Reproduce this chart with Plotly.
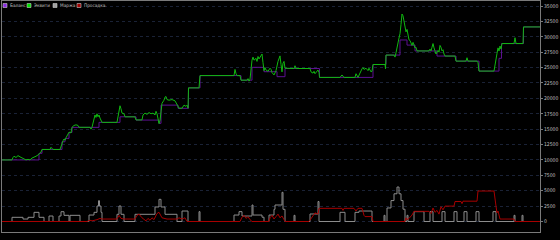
import plotly.graph_objects as go

# ---------------- data (time index, value) ----------------
equity_x = [0, 10, 11, 12, 14, 16, 18, 20, 22, 24, 26, 28, 30, 32, 34, 36, 37, 39, 40,
            48, 49, 50, 51, 58, 59, 61, 62, 63, 64, 65, 66, 67, 69, 70, 72, 74, 76, 77,
            88, 89, 90, 92, 93, 94, 95, 96, 97, 98, 100, 115, 116, 117, 118, 119, 120,
            122, 123, 133, 134, 140, 141, 143, 145, 147, 149, 151, 153, 154, 155, 157,
            158, 159, 160, 162, 163, 164, 165, 167, 170, 173, 175, 177, 180, 182, 184,
            185, 186, 186.5, 197, 198, 232, 233, 234, 235, 238, 239, 245, 246, 247, 248,
            250, 251, 252, 254, 255, 256, 257, 259, 260, 261, 262, 263, 264, 266, 268,
            269, 270, 272, 274, 276, 277, 278, 279, 280, 281, 282, 283, 292, 293, 294,
            308, 309, 311, 312, 313, 315, 316, 317, 317.5, 338, 340, 342, 353, 354, 356,
            360, 361, 362, 364, 366, 367, 369, 370, 371, 383, 383.5, 384, 392, 393, 394,
            395, 396, 397, 398, 399, 400, 401, 402, 403, 404, 405, 406, 407, 408, 409,
            410, 411, 412, 413, 414, 415, 416, 427, 428, 429, 430, 431, 432, 433, 434,
            436, 437, 438, 439, 440, 441, 442, 443, 453, 454, 464, 465, 466, 475, 476,
            477, 492, 493, 494, 495, 496, 497, 498, 499, 500, 512, 513, 514, 521, 521.5,
            538]
equity_y = [10000, 10000, 10400, 10600, 10400, 10700, 10500, 10300, 10200, 10000, 10100,
            10000, 10300, 10400, 10600, 10800, 11000, 11300, 11700,
            11700, 12050, 11800, 11700, 11700, 12300, 13100, 13400, 13200, 13600, 14000,
            14300, 14500, 14400, 15300, 15600, 15700, 15600, 15300,
            15300, 15000, 15300, 16700, 17300, 16900, 17500, 17000, 17300, 16800, 16100,
            16100, 17000, 17800, 18800, 18300, 17600,
            17500, 17000, 17000, 16500, 16500, 17300, 17600, 17400, 17700, 17500, 17600,
            17300, 17900, 17500, 15900,
            16400, 17800, 19200, 19700, 20200, 20300, 19800, 19700, 19800, 19600, 18900,
            18400, 18400, 18900, 18700,
            18900, 18400, 21700, 21700, 23700, 23700, 24700, 24000, 23700, 23700, 22950,
            22950, 23200, 22800, 23100,
            26200, 26700, 26200, 26500, 26000, 26800, 26400, 27000, 27200, 25800, 24500,
            25000, 24600, 24400, 24900,
            24700, 24200, 23800, 24500, 26000, 26600, 26900, 25500, 24300, 25700, 26000,
            24900, 24850, 25300, 24850,
            24850, 24300, 24100, 24400, 24000, 24300, 24600, 24200, 23400, 23400, 23800,
            23400, 23400, 24000, 23400,
            24800, 25000, 24700, 24900, 24500, 24900, 24300, 24400, 25500, 25500, 24800,
            27030, 27030, 26700, 27400,
            28000, 29000, 29800, 30500, 32000, 33700, 33400, 32500, 31800, 30800, 31200,
            30000, 29500, 29400, 29000,
            28600, 29100, 28700, 28200, 28300, 27700, 27700, 27700, 28000, 27700, 28300,
            28900, 28200, 27600, 27200,
            27800, 27500, 28600, 28300, 27700, 27900, 27200, 26870, 26870, 26050, 26050,
            26600, 26050, 26050, 25800,
            24430, 24430, 25200, 26400, 27300, 28200, 27700, 28500, 28000, 28900, 28900,
            29850, 28900, 28900, 31600,
            31600]

balance_x = [0, 37, 40, 60, 63, 67, 70, 97, 118, 134, 157, 159, 176, 186.5, 198, 239,
             250, 262, 275, 283, 317.5, 371, 384, 398, 405, 413, 435, 454, 477, 497,
             499.5, 521.5, 538]
balance_y = [10000, 11070, 11700, 12950, 13500, 14470, 15290, 16100, 17010, 16470,
             15940, 18900, 18380, 21700, 23700, 22950, 25040, 24330, 23520, 24850,
             23400, 25500, 27030, 29480, 28650, 27700, 26870, 26050, 24430, 26500,
             28900, 31600, 31600]

margin_x = [0, 10, 21, 26, 32, 37, 42, 47, 51, 57, 59, 62, 67, 68, 78, 87, 92, 95, 96.5,
            97.5, 99, 100, 115, 117, 119, 122, 133, 153, 157, 159, 163, 175, 180, 186,
            197, 198, 232, 237, 240, 250, 251, 260, 262, 267, 272, 273, 280, 281, 283,
            292, 293, 308, 316, 317, 338, 343, 353, 357, 370, 382, 383, 385, 389, 392,
            395, 397, 399, 401, 403, 405, 406, 412, 422, 428, 431, 440, 443, 452, 455,
            462, 465, 474, 477, 491, 494, 512, 513, 520, 521, 538]
margin_y = [0, 680, 400, 680, 1490, 680, 0, 890, 0, 890, 1590, 1000, 0, 1000, 0, 1050,
            1490, 2520, 3380, 2520, 1490, 0, 1170, 2520, 1170, 0, 1170, 2360, 3600, 2360,
            1170, 0, 1700, 0, 1600, 0, 1050, 1600, 890, 2680, 1050, 700, 0, 1050, 1980,
            2680, 4740, 1980, 0, 1000, 0, 1220, 3250, 0, 1490, 0, 1490, 1700, 0, 1000, 0,
            2200, 3400, 4500, 5600, 4500, 3400, 2000, 0, 1000, 0, 1600, 0, 1600, 0, 1600,
            0, 1600, 0, 1600, 0, 1600, 0, 1600, 0, 1000, 0, 1000, 0, 0]

drawdown_x = [0, 85, 88, 90, 95, 98, 100, 115, 117, 119, 122, 133, 135, 137, 140, 142,
              144, 146, 148, 150, 152, 155, 157, 160, 165, 175, 177, 180, 183, 185, 238,
              240, 242, 244, 246, 248, 250, 267, 268, 270, 272, 274, 276, 278, 280, 282,
              283, 307, 310, 313, 316, 317, 340, 341, 342, 352, 354, 356, 360, 361, 362,
              363, 370, 371, 403, 404, 405, 407, 410, 412, 427, 429, 431, 433, 435, 437,
              439, 441, 443, 452, 453, 459, 460, 461, 475, 476, 492, 494, 495, 496, 497,
              498, 512, 513, 538]
drawdown_y = [0, 0, 200, 100, 300, 500, 400, 400, 1000, 500, 400, 400, 1000, 1200, 600,
              300, 100, 500, 200, 600, 300, 1300, 1500, 600, 400, 400, 600, 400, 600, 0,
              0, 700, 1000, 500, 800, 300, 0, 0, 600, 1000, 400, 800, 1200, 600, 900, 300,
              0, 0, 800, 1400, 1200, 2140, 2140, 1800, 2140, 2140, 1700, 2140, 2140, 1400,
              1000, 800, 800, 0, 0, 600, 300, 500, 1050, 1650, 1650, 1300, 2200, 1500,
              1800, 1200, 2400, 1900, 2500, 2500, 3250, 3250, 2900, 3300, 3300, 4950, 4950,
              2500, 1400, 1700, 900, 400, 400, 0, 0]

tick_vals = [0, 2500, 5000, 7500, 10000, 12500, 15000, 17500, 20000, 22500, 25000,
             27500, 30000, 32500, 35000]
legend_names = ["Баланс", "Эквити", "Маржа", "Просадка"]
legend_colors = ["#8a2be2", "#00e000", "#a0a0a0", "#a00000"]

FONT = "Liberation Sans Narrow, DejaVu Sans Condensed, Liberation Sans"

# ---------------- figure ----------------
fig = go.Figure()
fig.add_trace(go.Scatter(x=margin_x, y=margin_y, mode="lines", line_shape="hv",
                         line=dict(color="#8c8c8c", width=1), showlegend=False,
                         name=legend_names[2]))
fig.add_trace(go.Scatter(x=drawdown_x, y=drawdown_y, mode="lines",
                         line=dict(color="#a80000", width=1), showlegend=False,
                         name=legend_names[3]))
fig.add_trace(go.Scatter(x=balance_x, y=balance_y, mode="lines", line_shape="hv",
                         line=dict(color="#5c1090", width=1), showlegend=False,
                         name=legend_names[0]))
fig.add_trace(go.Scatter(x=equity_x, y=equity_y, mode="lines",
                         line=dict(color="#10b810", width=1), showlegend=False,
                         name=legend_names[1]))

# plot area pixel geometry (decoration only)
L, R, T, B = 2, 540, 1, 232
W, H = 560, 240


def px(p):
    return (p - L) / (R - L)


def py(p):
    return (B - p) / (B - T)


shapes = [dict(type="rect", xref="paper", yref="paper", x0=px(2.5), x1=px(103),
               y0=py(10), y1=py(1.5), fillcolor="#000000", line=dict(width=0),
               layer="above")]
annotations = []
sq_x = [3, 27, 53, 77]
for name, col, sx in zip(legend_names, legend_colors, sq_x):
    shapes.append(dict(type="rect", xref="paper", yref="paper", x0=px(sx), x1=px(sx + 4),
                       y0=py(7.5), y1=py(3.5), fillcolor=col,
                       line=dict(color="#c8c8c8", width=0.6), layer="above"))
    annotations.append(dict(text=name, xref="paper", yref="paper", x=px(sx + 5),
                            y=py(5.5), xanchor="left", yanchor="middle", showarrow=False,
                            font=dict(size=4.7, color="#c0c0c0", family=FONT)))

fig.update_layout(
    width=W, height=H,
    margin=dict(l=L, r=W - R, t=T, b=H - B),
    paper_bgcolor="#000000", plot_bgcolor="#000000",
    shapes=shapes, annotations=annotations,
    showlegend=False,
    xaxis=dict(range=[0, 538], showgrid=False, zeroline=False, showticklabels=False,
               showline=True, linecolor="#7a7a7a", linewidth=1, mirror=True, ticks=""),
    yaxis=dict(range=[-1705, 35812], side="right", tickvals=tick_vals,
               ticktext=[str(v) for v in tick_vals],
               tickfont=dict(size=5, color="#c0c0c0", family=FONT),
               showgrid=True, gridcolor="#1a2236", griddash="dot", gridwidth=1,
               zeroline=False, showline=True, linecolor="#7a7a7a", linewidth=1,
               mirror=True, ticks="outside", ticklen=2, tickcolor="#7a7a7a"),
)

fig.write_html("out.html")
